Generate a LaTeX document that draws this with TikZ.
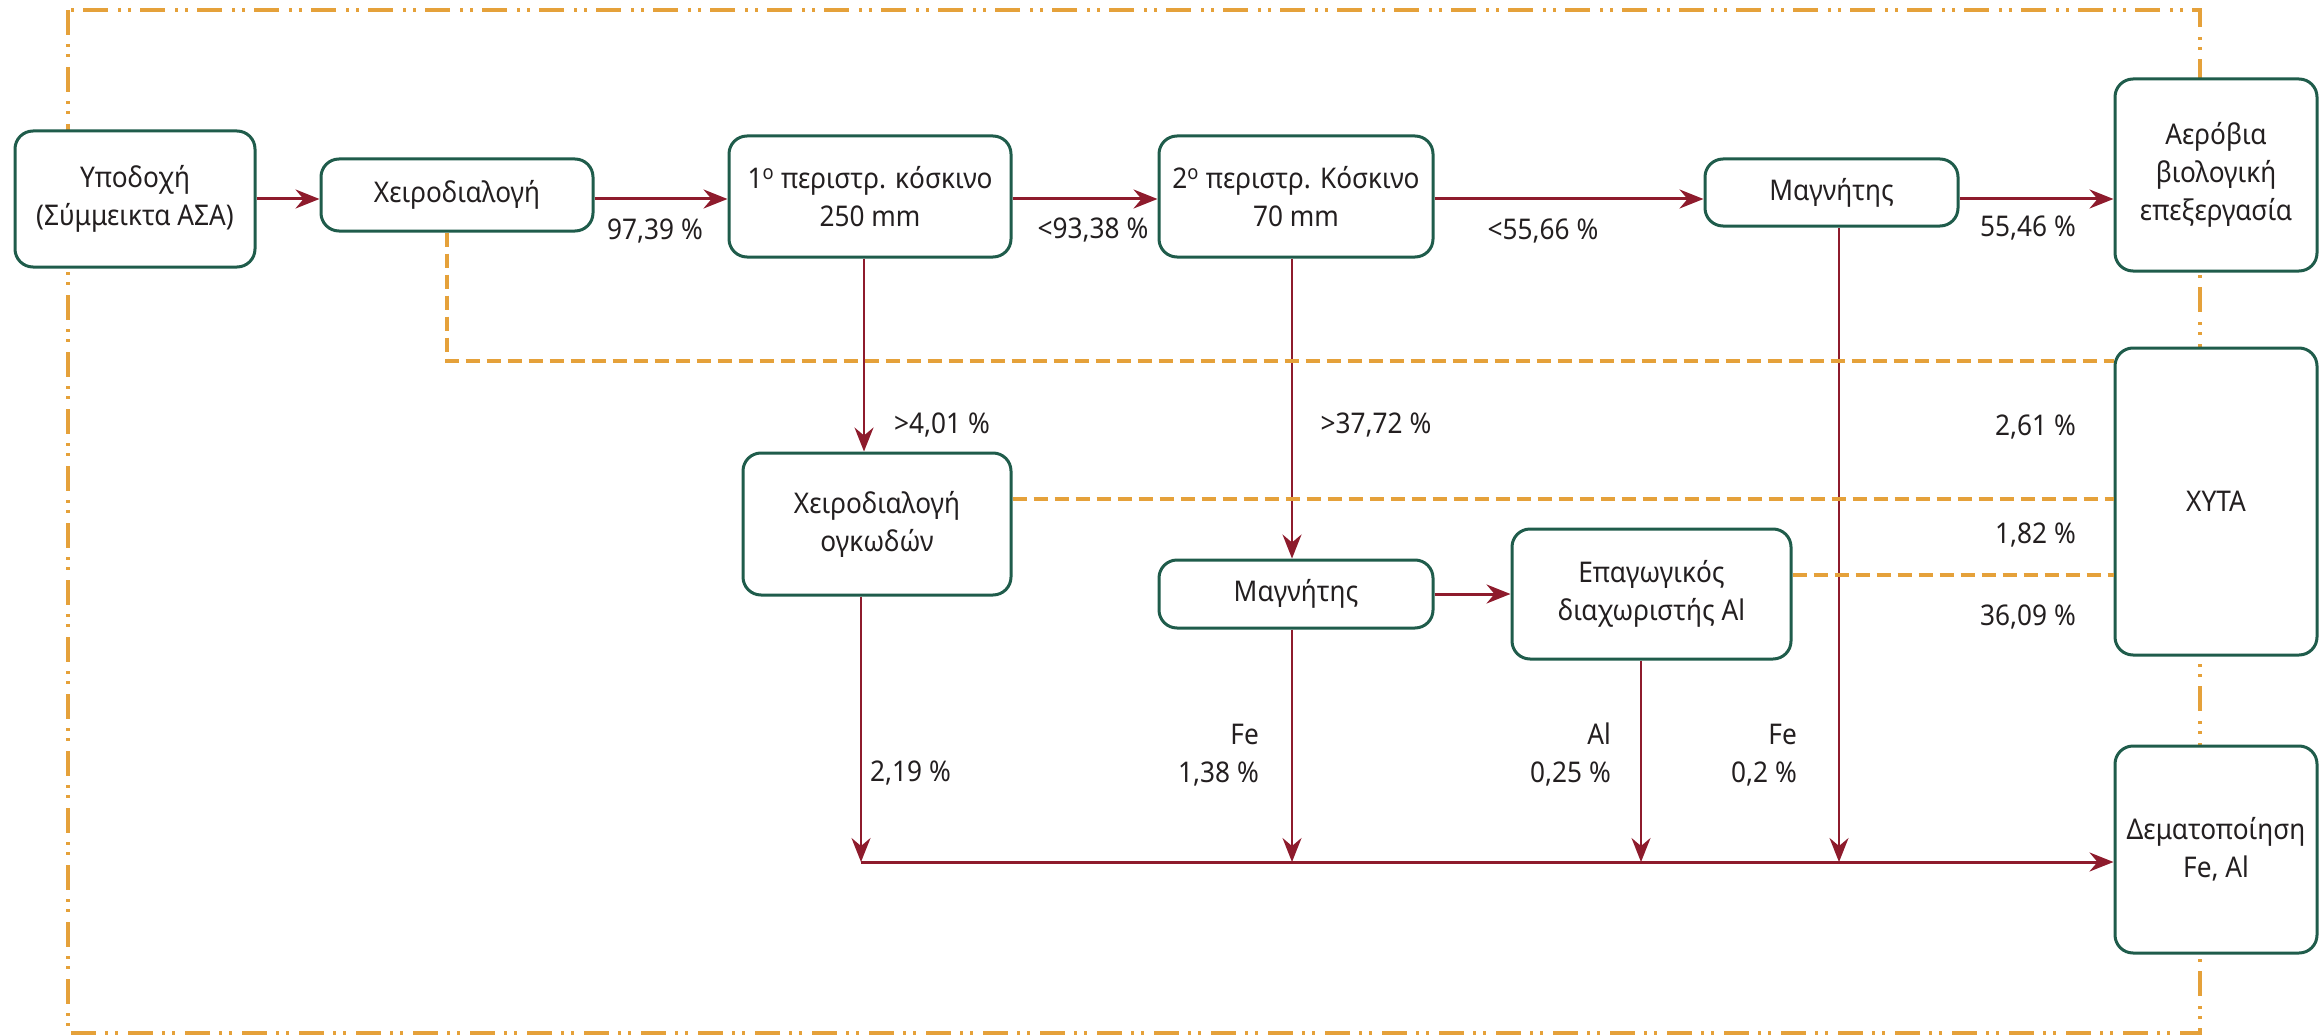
\documentclass[tikz,border=0pt]{standalone}
\usepackage{fontspec}
\setmainfont{Noto Sans}[FakeStretch=0.92]
\usetikzlibrary{arrows.meta,backgrounds,calc}
\definecolor{boxgreen}{RGB}{31,92,75}
\definecolor{flowred}{RGB}{142,27,44}
\definecolor{frameorange}{RGB}{229,161,58}
\definecolor{textgray}{RGB}{35,31,32}
\newcommand\lblfont{\fontsize{28.5}{38}\selectfont}
\tikzset{
  box/.style={draw=boxgreen, line width=3pt, rounded corners=18pt, fill=white,
    align=center, inner sep=2pt, font=\lblfont, text=textgray},
  flow/.style={draw=flowred, line width=3pt, -{Stealth[length=24pt,width=19pt,inset=8pt]}},
  flowv/.style={draw=flowred, line width=2.5pt, -{Stealth[length=24pt,width=19pt,inset=8pt]}},
  vline/.style={draw=flowred, line width=2.5pt},
  reject/.style={draw=frameorange, line width=3.5pt, dash pattern=on 14pt off 7pt},
  outerframe/.style={draw=frameorange, line width=4pt,
    dash pattern=on 25pt off 9pt on 3pt off 7pt on 3pt off 10pt},
  lbl/.style={font=\lblfont, text=textgray, inner sep=0pt}
}
\begin{document}
\begin{tikzpicture}[x=1pt,y=-1pt]
\useasboundingbox (0,0) rectangle (2323,1035);
% boxes
\node[box, minimum width=240pt, minimum height=136pt] (A) at (135,199) {Υποδοχή\\(Σύμμεικτα ΑΣΑ)};
\node[box, minimum width=272pt, minimum height=72pt] (B) at (457,195) {Χειροδιαλογή};
\node[box, minimum width=282pt, minimum height=121pt] (C) at (870,196.5) {1\textsuperscript{ο} περιστρ. κόσκινο\\250 mm};
\node[box, minimum width=274pt, minimum height=121pt] (D) at (1296,196.5) {2\textsuperscript{ο} περιστρ. Κόσκινο\\70 mm};
\node[box, minimum width=253pt, minimum height=67pt] (E) at (1831.5,192.5) {Μαγνήτης};
\node[box, minimum width=202pt, minimum height=192pt] (F) at (2216,175) {Αερόβια\\βιολογική\\επεξεργασία};
\node[box, minimum width=202pt, minimum height=307pt] (G) at (2216,501.5) {ΧΥΤΑ};
\node[box, minimum width=202pt, minimum height=207pt] (H) at (2216,849.5) {Δεματοποίηση\\Fe, Al};
\node[box, minimum width=268pt, minimum height=142pt] (I) at (877,524) {Χειροδιαλογή\\ογκωδών};
\node[box, minimum width=274pt, minimum height=68pt] (J) at (1296,594) {Μαγνήτης};
\node[box, minimum width=279pt, minimum height=130pt] (K) at (1651.5,594) {Επαγωγικός\\διαχωριστής Al};
% helper coordinates
\coordinate (xb) at (447,361);
\coordinate (xc) at (864,0);
\coordinate (xd) at (1292,0);
\coordinate (xi) at (861,0);
\coordinate (xk) at (1641,0);
\coordinate (xe) at (1839,0);
\coordinate (bus) at (861,862);
\coordinate (y2) at (0,499);
\coordinate (y3) at (0,575);
\begin{scope}[on background layer]
\draw[outerframe] (68,10) rectangle (2200,1033);
\end{scope}
% main flow
\draw[flow] (A.east) -- (A.east -| B.west);
\draw[flow] (B.east |- A.east) -- (A.east -| C.west);
\draw[flow] (C.east |- A.east) -- (A.east -| D.west);
\draw[flow] (D.east |- A.east) -- (A.east -| E.west);
\draw[flow] (E.east |- A.east) -- (A.east -| F.west);
\draw[flowv] (C.south -| xc) -- (I.north -| xc);
\draw[flowv] (D.south -| xd) -- (J.north -| xd);
\draw[flow] (J.east) -- (K.west);
% to baling
\draw[flowv] (I.south -| xi) -- (bus);
\draw[flowv] (J.south -| xd) -- (bus -| xd);
\draw[flowv] (K.south -| xk) -- (bus -| xk);
\draw[flowv] (E.south -| xe) -- (bus -| xe);
\draw[flow] (bus) -- (bus -| H.west);
% rejects to landfill
\draw[reject] (B.south -| xb) -- (xb) -- (xb -| G.west);
\draw[reject] (I.east |- y2) -- (G.west |- y2);
\draw[reject] (K.east |- y3) -- (G.west |- y3);
% labels
\node[lbl] (l1) at (655,231) {97,39 \%};
\node[lbl] (l2) at (1093,230) {<93,38 \%};
\node[lbl] (l3) at (1543,231) {<55,66 \%};
\node[lbl] (l4) at (2028,228) {55,46 \%};
\node[lbl] (l5) at (942,425) {>4,01 \%};
\node[lbl] (l6) at (1376,425) {>37,72 \%};
\node[lbl, anchor=east] (l7) at (2076,427) {2,61 \%};
\node[lbl, anchor=east] (l8) at (2076,535) {1,82 \%};
\node[lbl, anchor=east] (l9) at (2076,617) {36,09 \%};
\node[lbl, anchor=west] (l10) at (870,773) {2,19 \%};
\node[lbl, anchor=east, align=right] (l11) at (1259,755) {Fe\\1,38 \%};
\node[lbl, anchor=east, align=right] (l12) at (1611,755) {Al\\0,25 \%};
\node[lbl, anchor=east, align=right] (l13) at (1797,755) {Fe\\0,2 \%};
\end{tikzpicture}
\end{document}
